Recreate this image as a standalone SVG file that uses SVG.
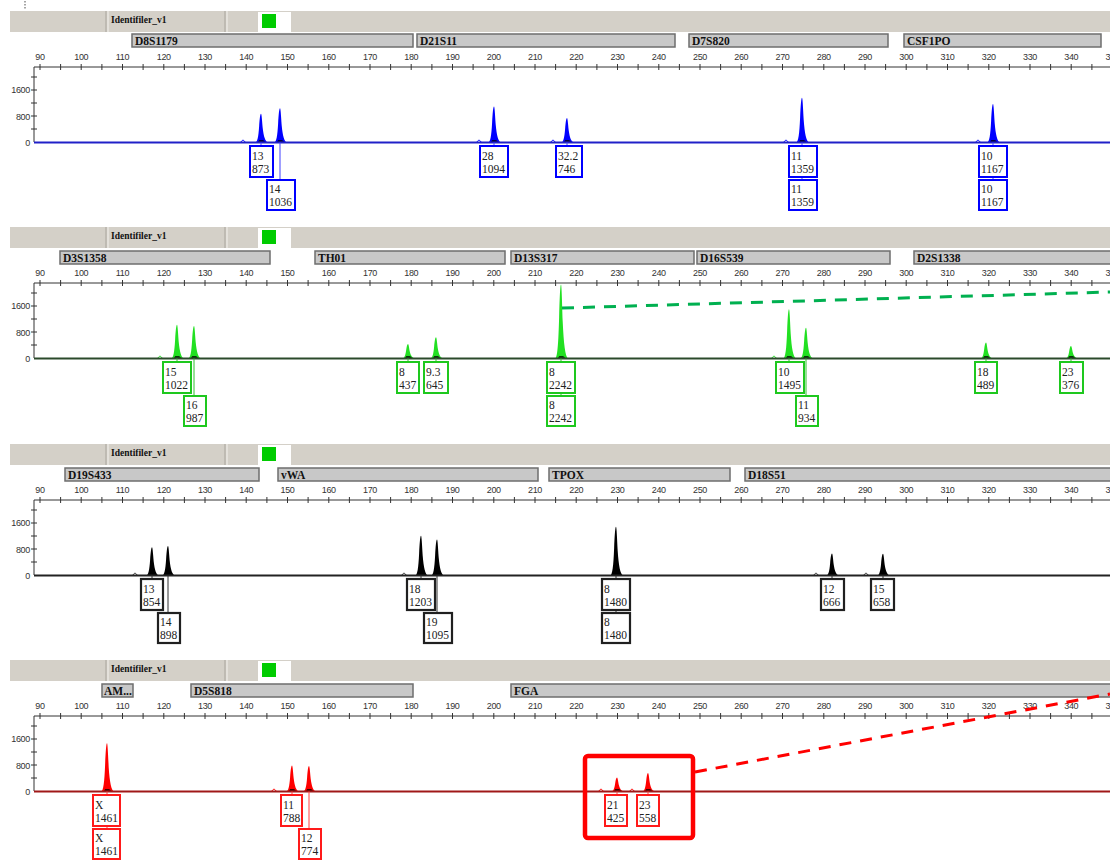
<svg xmlns="http://www.w3.org/2000/svg" xmlns:xlink="http://www.w3.org/1999/xlink" width="1110" height="860" viewBox="0 0 1110 860">
<style>
.sc{font-family:"Liberation Sans",Arial,sans-serif;font-size:9px;fill:#333;text-anchor:middle;letter-spacing:-0.3px}
.yl{font-family:"Liberation Sans",Arial,sans-serif;font-size:9px;fill:#333;text-anchor:end;letter-spacing:-0.3px}
.hd{font-family:"Liberation Serif","Times New Roman",serif;font-size:9.5px;font-weight:bold;fill:#111}
.bin{fill:#c8c8c8;stroke:#6e6e6e;stroke-width:1.5}
.bt{font-family:"Liberation Serif","Times New Roman",serif;font-size:11.5px;font-weight:bold;fill:#111}
.lt{font-family:"Liberation Serif","Times New Roman",serif;font-size:11.5px;fill:#222}
.bb{fill:#fff;stroke:#0000ff;stroke-width:2}
.gb{fill:#fff;stroke:#1ec81e;stroke-width:2}
.kb{fill:#fff;stroke:#202020;stroke-width:2.2}
.rb{fill:#fff;stroke:#ff1a1a;stroke-width:2}
.ax{stroke:#333;stroke-width:1;fill:none}
.ft{fill:#000;opacity:0.75}
</style>
<defs>
<path id="pk" d="M-6,0 C-3.6,0 -2.6,-0.2 -1.9,-0.55 C-1.3,-0.85 -0.7,-1 0,-1 C0.6,-1 1,-0.8 1.7,-0.5 C2.7,-0.2 4.2,-0.03 7,0 Z"/>
<path id="ft" d="M-4.5,0 C-3,0 -2.3,-1.5 -1.8,-2.5 L2.2,-2.5 C3,-1.4 4.2,-0.3 6,0 Z"/>
<path id="bump" d="M-3,0 C-1.5,0 -1,-2.5 0,-2.5 C1,-2.5 1.5,0 3,0" fill="none" stroke-width="1"/>
<g id="hdr">
<rect x="10" y="11" width="1100" height="21" fill="#d4d0c8"/>
<line x1="106" y1="11" x2="106" y2="32" stroke="#a9a59d"/>
<line x1="108" y1="11" x2="108" y2="32" stroke="#f4f2ee"/>
<line x1="225" y1="11" x2="225" y2="32" stroke="#a9a59d"/>
<line x1="227" y1="11" x2="227" y2="32" stroke="#f4f2ee"/>
<rect x="258" y="12" width="33" height="20" fill="#fff"/>
<rect x="262" y="14" width="14" height="14" fill="#00cc00"/>
<text class="hd" x="111" y="23">Identifiler_v1</text>
</g>
<g id="axis">
<path class="ax" d="M34,67 H1110 M34,67 V142"/>
<path class="ax" d="M40,64v6M60.6,64v6M81.2,64v6M101.9,64v6M122.5,64v6M143.1,64v6M163.8,64v6M184.4,64v6M205,64v6M225.6,64v6M246.2,64v6M266.9,64v6M287.5,64v6M308.1,64v6M328.8,64v6M349.4,64v6M370,64v6M390.6,64v6M411.2,64v6M431.9,64v6M452.5,64v6M473.1,64v6M493.8,64v6M514.4,64v6M535,64v6M555.6,64v6M576.2,64v6M596.9,64v6M617.5,64v6M638.1,64v6M658.8,64v6M679.4,64v6M700,64v6M720.6,64v6M741.2,64v6M761.9,64v6M782.5,64v6M803.1,64v6M823.8,64v6M844.4,64v6M865,64v6M885.6,64v6M906.2,64v6M926.9,64v6M947.5,64v6M968.1,64v6M988.8,64v6M1009.4,64v6M1030,64v6M1050.6,64v6M1071.2,64v6M1091.9,64v6M31,77h6M31,90h6M31,103h6M31,116h6M31,129h6"/>
<text class="sc" x="40" y="60">90</text><text class="sc" x="81.25" y="60">100</text><text class="sc" x="122.5" y="60">110</text><text class="sc" x="163.75" y="60">120</text><text class="sc" x="205" y="60">130</text><text class="sc" x="246.25" y="60">140</text><text class="sc" x="287.5" y="60">150</text><text class="sc" x="328.75" y="60">160</text><text class="sc" x="370" y="60">170</text><text class="sc" x="411.25" y="60">180</text><text class="sc" x="452.5" y="60">190</text><text class="sc" x="493.75" y="60">200</text><text class="sc" x="535" y="60">210</text><text class="sc" x="576.25" y="60">220</text><text class="sc" x="617.5" y="60">230</text><text class="sc" x="658.75" y="60">240</text><text class="sc" x="700" y="60">250</text><text class="sc" x="741.25" y="60">260</text><text class="sc" x="782.5" y="60">270</text><text class="sc" x="823.75" y="60">280</text><text class="sc" x="865" y="60">290</text><text class="sc" x="906.25" y="60">300</text><text class="sc" x="947.5" y="60">310</text><text class="sc" x="988.75" y="60">320</text><text class="sc" x="1030" y="60">330</text><text class="sc" x="1071.25" y="60">340</text><text class="sc" x="1112.5" y="60">350</text>
<text class="yl" x="30" y="93">1600</text><text class="yl" x="30" y="120">800</text><text class="yl" x="30" y="146">0</text>
</g>
</defs>
<rect width="1110" height="860" fill="#fff"/>
<line x1="25" y1="1" x2="25" y2="10" stroke="#888" stroke-width="1.5" stroke-dasharray="1.5 1.5"/>

<!-- Panel 1 blue -->
<g id="panel-blue">
<use href="#hdr"/>
<g id="bins-blue">
<rect class="bin" x="132" y="34" width="281" height="13"/><text class="bt" x="135" y="45">D8S1179</text>
<rect class="bin" x="417" y="34" width="258" height="13"/><text class="bt" x="420" y="45">D21S11</text>
<rect class="bin" x="689" y="34" width="199" height="13"/><text class="bt" x="692" y="45">D7S820</text>
<rect class="bin" x="904" y="34" width="197" height="13"/><text class="bt" x="907" y="45">CSF1PO</text>
</g>
<use href="#axis"/>
<g id="peaks-blue" fill="#0000ff" stroke="#0000ff">
<use href="#pk" stroke="none" transform="translate(261,142.5) scale(1,28.8)"/>
<use href="#pk" stroke="none" transform="translate(280,142.5) scale(1,34.2)"/>
<use href="#pk" stroke="none" transform="translate(494,142.5) scale(1,36.1)"/>
<use href="#pk" stroke="none" transform="translate(567,142.5) scale(1,24.6)"/>
<use href="#pk" stroke="none" transform="translate(802,142.5) scale(1,44.8)"/>
<use href="#pk" stroke="none" transform="translate(993,142.5) scale(1,38.5)"/>
<use href="#bump" fill="none" x="243" y="142.5"/><use href="#bump" fill="none" x="479" y="142.5"/><use href="#bump" fill="none" x="553" y="142.5"/><use href="#bump" fill="none" x="786" y="142.5"/><use href="#bump" fill="none" x="978" y="142.5"/>
</g>
<g class="ft"><use href="#ft" x="261" y="142.5"/><use href="#ft" x="280" y="142.5"/><use href="#ft" x="494" y="142.5"/><use href="#ft" x="567" y="142.5"/><use href="#ft" x="802" y="142.5"/><use href="#ft" x="993" y="142.5"/></g>
<line x1="34" y1="142.5" x2="1110" y2="142.5" stroke="#2020c8" stroke-width="2"/>
</g>

<!-- Panel 2 green -->
<g id="panel-green" transform="translate(0,216)">
<use href="#hdr"/>
<g id="bins-green">
<rect class="bin" x="60" y="35" width="210" height="13"/><text class="bt" x="63" y="46">D3S1358</text>
<rect class="bin" x="315" y="35" width="190" height="13"/><text class="bt" x="318" y="46">TH01</text>
<rect class="bin" x="511" y="35" width="183" height="13"/><text class="bt" x="514" y="46">D13S317</text>
<rect class="bin" x="697" y="35" width="193" height="13"/><text class="bt" x="700" y="46">D16S539</text>
<rect class="bin" x="914" y="35" width="210" height="13"/><text class="bt" x="917" y="46">D2S1338</text>
</g>
<use href="#axis"/>
<g id="peaks-green" fill="#22e022" stroke="#22e022">
<use href="#pk" stroke="none" transform="translate(177,142.5) scale(1,33.7)"/>
<use href="#pk" stroke="none" transform="translate(194,142.5) scale(1,32.6)"/>
<use href="#pk" stroke="none" transform="translate(408,142.5) scale(1,14.4)"/>
<use href="#pk" stroke="none" transform="translate(436,142.5) scale(1,21.3)"/>
<use href="#pk" stroke="none" transform="translate(561,142.5) scale(1,74)"/>
<use href="#pk" stroke="none" transform="translate(789,142.5) scale(1,49.3)"/>
<use href="#pk" stroke="none" transform="translate(806,142.5) scale(1,30.8)"/>
<use href="#pk" stroke="none" transform="translate(986,142.5) scale(1,16.1)"/>
<use href="#pk" stroke="none" transform="translate(1071,142.5) scale(1,12.4)"/>
<use href="#bump" fill="none" x="160" y="142.5"/><use href="#bump" fill="none" x="774" y="142.5"/>
</g>
<g class="ft"><use href="#ft" x="177" y="142.5"/><use href="#ft" x="194" y="142.5"/><use href="#ft" x="408" y="142.5"/><use href="#ft" x="436" y="142.5"/><use href="#ft" x="561" y="142.5"/><use href="#ft" x="789" y="142.5"/><use href="#ft" x="806" y="142.5"/><use href="#ft" x="986" y="142.5"/><use href="#ft" x="1071" y="142.5"/></g>
<line x1="34" y1="142.5" x2="1110" y2="142.5" stroke="#2b4a2b" stroke-width="2"/>
</g>

<!-- Panel 3 black -->
<g id="panel-black" transform="translate(0,433)">
<use href="#hdr"/>
<g id="bins-black">
<rect class="bin" x="65" y="35" width="194" height="13"/><text class="bt" x="68" y="46">D19S433</text>
<rect class="bin" x="278" y="35" width="260" height="13"/><text class="bt" x="281" y="46">vWA</text>
<rect class="bin" x="549" y="35" width="181" height="13"/><text class="bt" x="552" y="46">TPOX</text>
<rect class="bin" x="745" y="35" width="380" height="13"/><text class="bt" x="748" y="46">D18S51</text>
</g>
<use href="#axis"/>
<g id="peaks-black" fill="#000" stroke="#333">
<use href="#pk" stroke="none" transform="translate(152,142.5) scale(1,28.2)"/>
<use href="#pk" stroke="none" transform="translate(168,142.5) scale(1,29.6)"/>
<use href="#pk" stroke="none" transform="translate(421,142.5) scale(1,39.7)"/>
<use href="#pk" stroke="none" transform="translate(437,142.5) scale(1,36.1)"/>
<use href="#pk" stroke="none" transform="translate(616,142.5) scale(1,48.8)"/>
<use href="#pk" stroke="none" transform="translate(832,142.5) scale(1,22)"/>
<use href="#pk" stroke="none" transform="translate(883,142.5) scale(1,21.7)"/>
<use href="#bump" fill="none" x="135" y="142.5"/><use href="#bump" fill="none" x="404" y="142.5"/><use href="#bump" fill="none" x="816" y="142.5"/><use href="#bump" fill="none" x="866" y="142.5"/>
</g>
<line x1="34" y1="142.5" x2="1110" y2="142.5" stroke="#222" stroke-width="2"/>
</g>

<!-- Panel 4 red -->
<g id="panel-red" transform="translate(0,649)">
<use href="#hdr"/>
<g id="bins-red">
<rect class="bin" x="102" y="35" width="31" height="13"/><text class="bt" x="104" y="46">AM...</text>
<rect class="bin" x="191" y="35" width="222" height="13"/><text class="bt" x="194" y="46">D5S818</text>
<rect class="bin" x="511" y="35" width="620" height="13"/><text class="bt" x="514" y="46">FGA</text>
</g>
<use href="#axis"/>
<g id="peaks-red" fill="#ff0000" stroke="#ff0000">
<use href="#pk" stroke="none" transform="translate(107,142.5) scale(1,48.2)"/>
<use href="#pk" stroke="none" transform="translate(292,142.5) scale(1,26)"/>
<use href="#pk" stroke="none" transform="translate(309,142.5) scale(1,25.5)"/>
<use href="#pk" stroke="none" transform="translate(617,142.5) scale(1,14)"/>
<use href="#pk" stroke="none" transform="translate(648,142.5) scale(1,18.4)"/>
<use href="#bump" fill="none" x="274" y="142.5"/><use href="#bump" fill="none" x="601" y="142.5"/><use href="#bump" fill="none" x="632" y="142.5"/>
</g>
<g class="ft"><use href="#ft" x="107" y="142.5"/><use href="#ft" x="292" y="142.5"/><use href="#ft" x="309" y="142.5"/><use href="#ft" x="617" y="142.5"/><use href="#ft" x="648" y="142.5"/></g>
<line x1="34" y1="142.5" x2="1110" y2="142.5" stroke="#a01818" stroke-width="2"/>
</g>

<!-- Connectors -->
<g id="connectors" stroke-width="1" fill="none">
<g stroke="#4040ff">
<path d="M261,142.5V146M280,142.5V180M494,142.5V146M567,142.5V146M802,142.5V146M802,177V180M993,142.5V146M993,177V180"/>
</g>
<g stroke="#30c030" transform="translate(0,216)">
<path d="M177,142.5V146M194,142.5V180M408,142.5V146M436,142.5V146M561,142.5V146M561,177V180M789,142.5V146M806,142.5V180M986,142.5V146M1071,142.5V146"/>
</g>
<g stroke="#333" transform="translate(0,433)">
<path d="M152,142.5V146M168,142.5V180M421,142.5V146M437,142.5V180M616,142.5V146M616,177V180M832,142.5V146M883,142.5V146"/>
</g>
<g stroke="#ff4040" transform="translate(0,649)">
<path d="M107,142.5V146M107,177V180M292,142.5V146M309,142.5V180M617,142.5V146M648,142.5V146"/>
</g>
<line x1="562" y1="308" x2="1110" y2="292" stroke="#00b050" stroke-width="3" stroke-dasharray="12 9"/>
<line x1="695" y1="772" x2="1110" y2="694" stroke="#ff0000" stroke-width="3" stroke-dasharray="12 9"/>
</g>

<!-- Allele label boxes: blue -->
<g id="labels-blue">
<g id="lb-13-873"><rect class="bb" x="250" y="146" width="23" height="31"/><text class="lt" x="252" y="159.5">13</text><text class="lt" x="252" y="172.5">873</text></g>
<g id="lb-14-1036"><rect class="bb" x="267" y="180" width="28" height="30"/><text class="lt" x="269" y="193">14</text><text class="lt" x="269" y="206">1036</text></g>
<g id="lb-28-1094"><rect class="bb" x="480" y="146" width="28" height="31"/><text class="lt" x="482" y="159.5">28</text><text class="lt" x="482" y="172.5">1094</text></g>
<g id="lb-32.2-746"><rect class="bb" x="556" y="146" width="26" height="31"/><text class="lt" x="558" y="159.5">32.2</text><text class="lt" x="558" y="172.5">746</text></g>
<g id="lb-11-1359-a"><rect class="bb" x="789" y="146" width="28" height="31"/><text class="lt" x="791" y="159.5">11</text><text class="lt" x="791" y="172.5">1359</text></g>
<g id="lb-11-1359-b"><rect class="bb" x="789" y="180" width="28" height="30"/><text class="lt" x="791" y="193">11</text><text class="lt" x="791" y="206">1359</text></g>
<g id="lb-10-1167-a"><rect class="bb" x="979" y="146" width="28" height="31"/><text class="lt" x="981" y="159.5">10</text><text class="lt" x="981" y="172.5">1167</text></g>
<g id="lb-10-1167-b"><rect class="bb" x="979" y="180" width="28" height="30"/><text class="lt" x="981" y="193">10</text><text class="lt" x="981" y="206">1167</text></g>
</g>

<!-- green -->
<g id="labels-green" transform="translate(0,216)">
<g id="lg-15-1022"><rect class="gb" x="163" y="146" width="28" height="31"/><text class="lt" x="165" y="159.5">15</text><text class="lt" x="165" y="172.5">1022</text></g>
<g id="lg-16-987"><rect class="gb" x="184" y="180" width="22" height="30"/><text class="lt" x="186" y="193">16</text><text class="lt" x="186" y="206">987</text></g>
<g id="lg-8-437"><rect class="gb" x="397" y="146" width="22" height="31"/><text class="lt" x="399" y="159.5">8</text><text class="lt" x="399" y="172.5">437</text></g>
<g id="lg-9.3-645"><rect class="gb" x="424" y="146" width="24" height="31"/><text class="lt" x="426" y="159.5">9.3</text><text class="lt" x="426" y="172.5">645</text></g>
<g id="lg-8-2242-a"><rect class="gb" x="547" y="146" width="28" height="31"/><text class="lt" x="549" y="159.5">8</text><text class="lt" x="549" y="172.5">2242</text></g>
<g id="lg-8-2242-b"><rect class="gb" x="547" y="180" width="28" height="30"/><text class="lt" x="549" y="193">8</text><text class="lt" x="549" y="206">2242</text></g>
<g id="lg-10-1495"><rect class="gb" x="776" y="146" width="28" height="31"/><text class="lt" x="778" y="159.5">10</text><text class="lt" x="778" y="172.5">1495</text></g>
<g id="lg-11-934"><rect class="gb" x="796" y="180" width="22" height="30"/><text class="lt" x="798" y="193">11</text><text class="lt" x="798" y="206">934</text></g>
<g id="lg-18-489"><rect class="gb" x="975" y="146" width="22" height="31"/><text class="lt" x="977" y="159.5">18</text><text class="lt" x="977" y="172.5">489</text></g>
<g id="lg-23-376"><rect class="gb" x="1060" y="146" width="23" height="31"/><text class="lt" x="1062" y="159.5">23</text><text class="lt" x="1062" y="172.5">376</text></g>
</g>

<!-- black -->
<g id="labels-black" transform="translate(0,433)">
<g id="lk-13-854"><rect class="kb" x="141" y="146" width="22" height="31"/><text class="lt" x="143" y="159.5">13</text><text class="lt" x="143" y="172.5">854</text></g>
<g id="lk-14-898"><rect class="kb" x="158" y="180" width="22" height="30"/><text class="lt" x="160" y="193">14</text><text class="lt" x="160" y="206">898</text></g>
<g id="lk-18-1203"><rect class="kb" x="407" y="146" width="28" height="31"/><text class="lt" x="409" y="159.5">18</text><text class="lt" x="409" y="172.5">1203</text></g>
<g id="lk-19-1095"><rect class="kb" x="424" y="180" width="28" height="30"/><text class="lt" x="426" y="193">19</text><text class="lt" x="426" y="206">1095</text></g>
<g id="lk-8-1480-a"><rect class="kb" x="602" y="146" width="28" height="31"/><text class="lt" x="604" y="159.5">8</text><text class="lt" x="604" y="172.5">1480</text></g>
<g id="lk-8-1480-b"><rect class="kb" x="602" y="180" width="28" height="30"/><text class="lt" x="604" y="193">8</text><text class="lt" x="604" y="206">1480</text></g>
<g id="lk-12-666"><rect class="kb" x="821" y="146" width="23" height="31"/><text class="lt" x="823" y="159.5">12</text><text class="lt" x="823" y="172.5">666</text></g>
<g id="lk-15-658"><rect class="kb" x="871" y="146" width="23" height="31"/><text class="lt" x="873" y="159.5">15</text><text class="lt" x="873" y="172.5">658</text></g>
</g>

<!-- red -->
<g id="labels-red" transform="translate(0,649)">
<g id="lr-X-1461-a"><rect class="rb" x="93" y="146" width="27" height="31"/><text class="lt" x="95" y="159.5">X</text><text class="lt" x="95" y="172.5">1461</text></g>
<g id="lr-X-1461-b"><rect class="rb" x="93" y="180" width="27" height="30"/><text class="lt" x="95" y="193">X</text><text class="lt" x="95" y="206">1461</text></g>
<g id="lr-11-788"><rect class="rb" x="281" y="146" width="21" height="31"/><text class="lt" x="283" y="159.5">11</text><text class="lt" x="283" y="172.5">788</text></g>
<g id="lr-12-774"><rect class="rb" x="299" y="180" width="22" height="30"/><text class="lt" x="301" y="193">12</text><text class="lt" x="301" y="206">774</text></g>
<g id="lr-21-425"><rect class="rb" x="605" y="146" width="22" height="31"/><text class="lt" x="607" y="159.5">21</text><text class="lt" x="607" y="172.5">425</text></g>
<g id="lr-23-558"><rect class="rb" x="637" y="146" width="22" height="31"/><text class="lt" x="639" y="159.5">23</text><text class="lt" x="639" y="172.5">558</text></g>
</g>

<g id="highlight-fga">
<rect x="585" y="756" width="108" height="82" rx="3" fill="none" stroke="#ff0000" stroke-width="4.5"/>
</g>
</svg>
